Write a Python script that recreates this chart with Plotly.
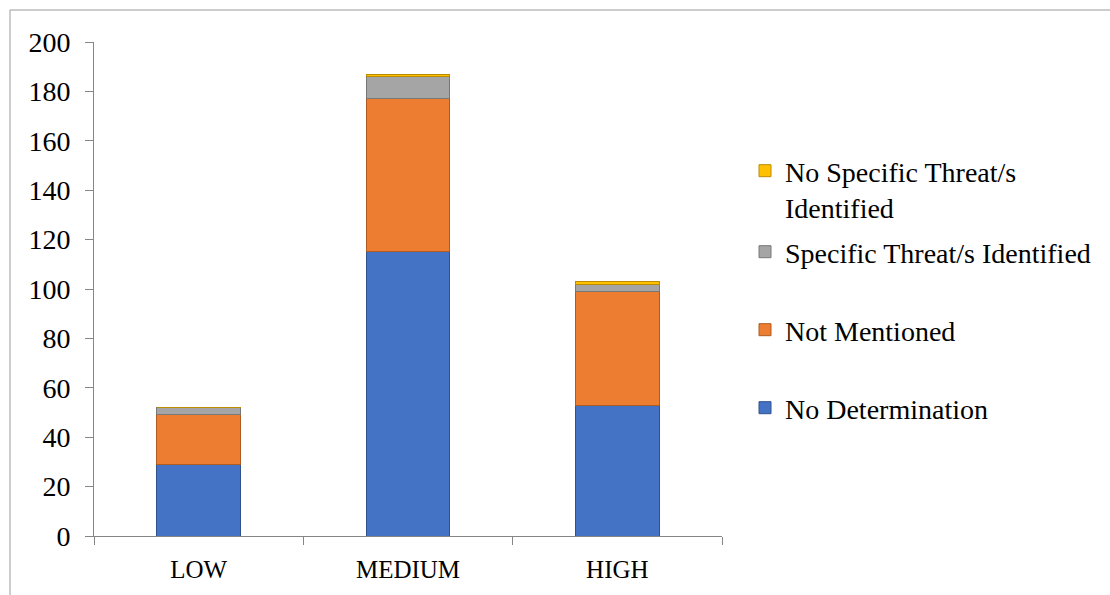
import plotly.graph_objects as go

categories = ["LOW", "MEDIUM", "HIGH"]
no_determination = [29, 115, 53]
not_mentioned = [20, 62, 46]
specific_threats = [3, 9, 3]
no_specific_threats = [0, 1, 1]

series = [
    ("No Determination", no_determination, "#4472C4", "#2F528F"),
    ("Not Mentioned", not_mentioned, "#ED7D31", "#AE5A21"),
    ("Specific Threat/s Identified", specific_threats, "#A5A5A5", "#787878"),
    ("No Specific Threat/s<br>Identified", no_specific_threats, "#FFC000", "#BC8C00"),
]

FONT = "Liberation Serif"
W, H = 1110, 595
L, R, T, B = 94, 388, 42, 59
plot_h = H - T - B
plot_w = W - L - R


def py(p):
    return (H - B - p) / plot_h


def px(p):
    return (p - L) / plot_w


fig = go.Figure()
legend_names = ["legend4", "legend3", "legend2", "legend"]
for (name, vals, color, edge), lg in zip(series, legend_names):
    fig.add_trace(go.Bar(
        x=categories, y=vals, name=name,
        marker=dict(color=color, line=dict(color=edge, width=1)),
        legend=lg,
    ))

legend_rows = {"legend": 174, "legend2": 252, "legend3": 330, "legend4": 408}
legend_cfg = {}
for lg, ypix in legend_rows.items():
    cfg = dict(
        x=px(745), xanchor="left",
        y=py(ypix), yanchor="middle",
        font=dict(family=FONT, size=28, color="#000000"),
        bgcolor="rgba(0,0,0,0)", itemwidth=30,
        itemclick=False, itemdoubleclick=False,
    )
    if lg == "legend":
        cfg.update(y=py(ypix - 28), yanchor="top", valign="top")
    legend_cfg[lg] = cfg

fig.update_layout(
    width=W, height=H,
    margin=dict(l=L, r=R, t=T, b=B, autoexpand=False),
    barmode="stack", bargap=0.6,
    paper_bgcolor="white", plot_bgcolor="white",
    showlegend=True,
    **legend_cfg,
    xaxis=dict(
        range=[-0.5, 2.5], showline=True, linecolor="#868686", linewidth=1,
        ticks="outside", tickson="boundaries", ticklen=8, tickcolor="#868686",
        ticklabelstandoff=11,
        tickfont=dict(family=FONT, size=25, color="#000000"),
        showgrid=False, zeroline=False, fixedrange=True,
    ),
    yaxis=dict(
        range=[0, 200], dtick=20, showline=True, linecolor="#868686", linewidth=1,
        ticks="outside", ticklen=8, tickcolor="#868686",
        ticklabelstandoff=9,
        tickfont=dict(family=FONT, size=28, color="#000000"),
        showgrid=False, zeroline=False, fixedrange=True,
    ),
    shapes=[dict(
        type="rect", xref="paper", yref="paper",
        x0=px(10), x1=px(W + 20), y0=py(H + 20), y1=py(10),
        line=dict(color="#9A9A9A", width=1), fillcolor="rgba(0,0,0,0)",
        layer="below",
    )],
)

fig.write_html("out.html", config={"displayModeBar": False})
